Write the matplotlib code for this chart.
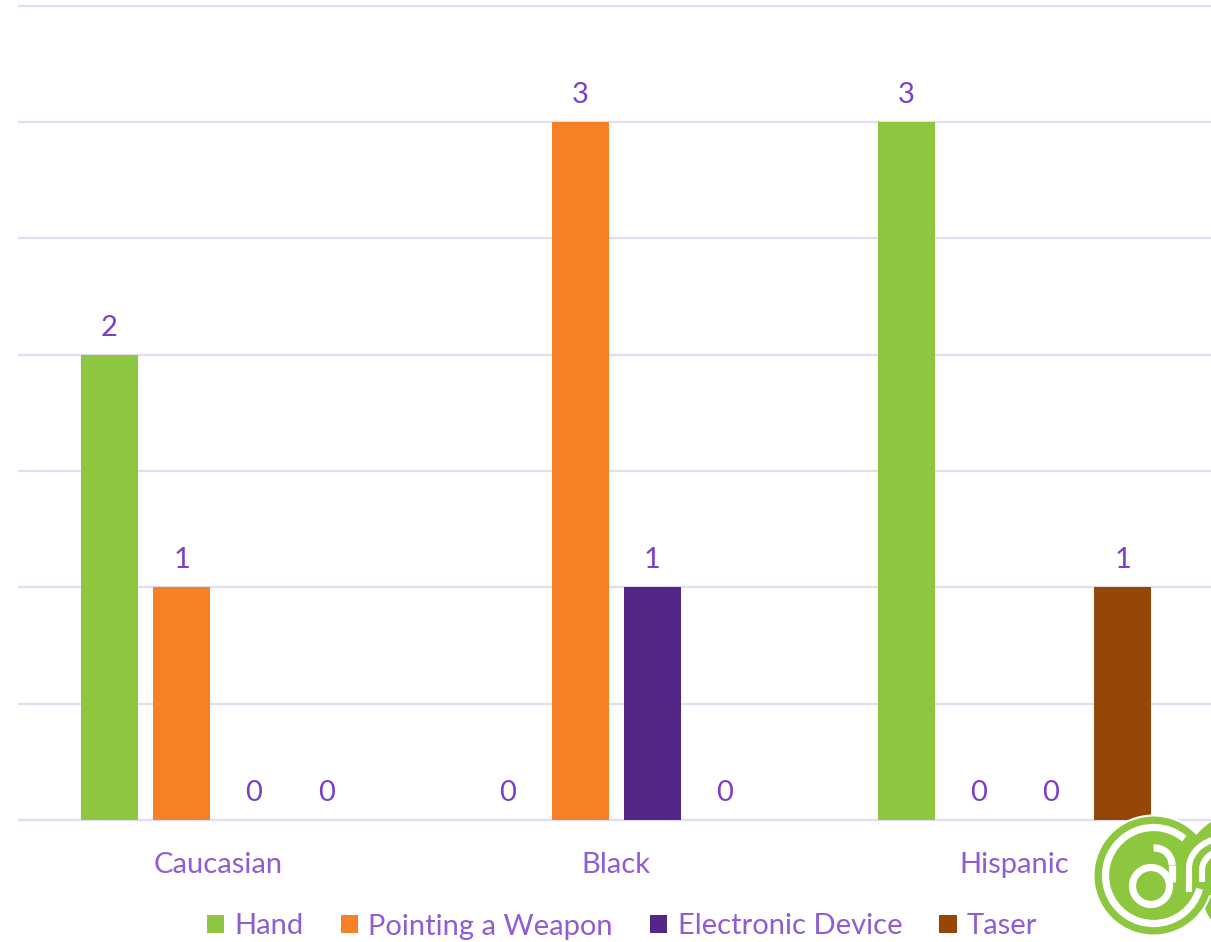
import matplotlib
matplotlib.use('Agg')
import matplotlib.pyplot as plt
from matplotlib.patches import Circle, Arc, Ellipse, Rectangle
import numpy as np

plt.rcParams['font.family'] = ['Lato', 'DejaVu Sans']

groups = ['Caucasian', 'Black', 'Hispanic']
hand = [2, 0, 3]
pointing = [1, 3, 0]
electronic = [0, 1, 0]
taser = [0, 0, 1]
series_names = ['Hand', 'Pointing a Weapon', 'Electronic Device', 'Taser']
series_colors = ['#8DC73F', '#F68026', '#532787', '#964607']

W, H = 1211, 942
LABEL = '#7B3FCB'
TEXT = '#8F5CD3'
GRID = '#E2DDF1'
GREEN = '#8DC73F'
FS = 21

fig = plt.figure(figsize=(W / 100, H / 100), dpi=100)
ax = fig.add_axes([18.7 / W, 1 - 820 / H, 1195 / W, 814.5 / H])

# bars
x = np.arange(len(groups))
bar_w = 0.143
step = 0.1815
handles = []
for i, vals in enumerate([hand, pointing, electronic, taser]):
    bars = ax.bar(x + (i - 1.5) * step, vals, bar_w, color=series_colors[i],
                  label=series_names[i], zorder=3)
    ax.bar_label(bars, padding=10, color=LABEL, fontsize=FS)
    handles.append(bars)

ax.set_xlim(-0.5, 2.5)
ax.set_ylim(0, 3.5)
ax.set_yticks(np.arange(0, 3.6, 0.5))
ax.set_yticklabels([])
ax.set_xticks(x)
ax.set_xticklabels(groups, color=TEXT, fontsize=FS)
ax.tick_params(axis='both', length=0)
ax.tick_params(axis='x', pad=23)
ax.grid(axis='y', color=GRID, linewidth=1.6, zorder=1)
for gl in ax.get_ygridlines():
    gl.set_clip_on(False)
for s in ax.spines.values():
    s.set_visible(False)

leg = fig.legend(handles=handles, labels=series_names, ncol=4, frameon=False,
                 loc='center', bbox_to_anchor=(622 / W, 1 - 926.5 / H), fontsize=FS,
                 labelcolor=TEXT, handlelength=0.6, handleheight=0.6,
                 handletextpad=0.35, columnspacing=1.27)

# logo, in pixel coordinates
logo = fig.add_axes([0, 0, 1, 1], zorder=5)
logo.set_xlim(0, W)
logo.set_ylim(H, 0)
logo.axis('off')
logo.patch.set_alpha(0)

logo.add_patch(Ellipse((1245, 900), 82, 70, color=GREEN, lw=0))
logo.add_patch(Circle((1153.5, 875.5), 60, fc=GREEN, ec='white', lw=1.5))
upper = Circle((1250, 880), 70, color=GREEN, lw=0)
logo.add_patch(upper)
upper.set_clip_path(Rectangle((1150, 800), 100, 95, transform=logo.transData))

# white stripes
stripe = 4.4
logo.add_patch(Arc((1153.5, 875.5), 96, 96, theta1=16, theta2=310, color='white', lw=5.2))
logo.add_patch(Circle((1151, 886), 18.5, fc=GREEN, ec='white', lw=5.2))
logo.add_patch(Arc((1155, 865), 34, 34, theta1=265, theta2=360, color='white', lw=5.2))
logo.plot([1172, 1172], [865, 882], color='white', lw=5.2, solid_capstyle='butt')

logo.plot([1189, 1189], [892, 868], color='white', lw=stripe, solid_capstyle='butt')
logo.add_patch(Arc((1229, 868), 80, 62, theta1=180, theta2=270, color='white', lw=stripe))
logo.plot([1202, 1202], [882, 870], color='white', lw=stripe, solid_capstyle='butt')
logo.add_patch(Arc((1229, 870), 54, 42, theta1=180, theta2=270, color='white', lw=stripe))

fig.savefig('out.png', dpi=100)
